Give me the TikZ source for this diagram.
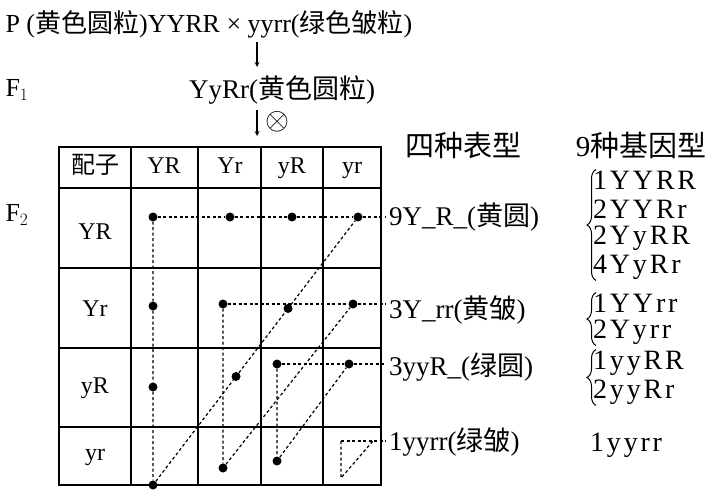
\documentclass[tikz,border=0pt]{standalone}
\usepackage{fontspec}
\setmainfont{Liberation Serif}
\newfontfamily\cjk{Noto Sans CJK SC}
\newfontfamily\gtfont[LetterSpace=10]{Liberation Serif}
\usetikzlibrary{arrows, positioning, decorations.pathreplacing}
\newcommand{\zh}[1]{{\cjk #1}}
\newcommand{\bigf}{\fontsize{26}{30}\selectfont}
\tikzset{
>=stealth, % arrow heads of the two cross arrows
every node/.style={font=\bigf}, % most texts share one size
cell/.style={font=\fontsize{24}{28}\selectfont, text height=16pt, text depth=5pt}, % gametes in the table
dot/.style={circle, fill, inner sep=0pt, minimum size=9pt}, % one seed of F2
guide/.style={line width=1.2pt, dash pattern=on 3pt off 2.5pt}, % joins the seeds of one phenotype
pheno/.style={anchor=west, inner sep=3pt, font=\fontsize{27}{31}\selectfont}, % phenotype ratios on the right
head/.style={font=\fontsize{29}{33}\selectfont}, % column titles
geno/.style={anchor=west, inner sep=1pt, font=\gtfont\fontsize{28}{32}\selectfont}, % genotypes, letter spaced
brace/.style={decorate, decoration={brace, amplitude=9pt}, line width=1pt}, % groups the genotypes
}
\begin{document}
\begin{tikzpicture}[x=1pt, y=-1pt]
\useasboundingbox (0,0) rectangle (712,492);

% parents and F1
\node[anchor=west] (p) at (2,24) {P (\zh{黄色圆粒})YYRR × yyrr(\zh{绿色皱粒})};
\node[anchor=west] (f1) at (2,90) {F$_1$};
\node[anchor=west, inner sep=1pt, font=\fontsize{27}{31}\selectfont] (f1g) at (188,90) {YyRr(\zh{黄色圆粒})};
\node[anchor=west] (f2) at (2,215) {F$_2$};
\node[inner sep=0pt] (self) at (277,122) {\resizebox{24pt}{!}{$\otimes$}};
\coordinate (ar1) at (257,42);
\coordinate (ar2) at (257,67);
\coordinate (ar3) at (257,110);
\coordinate (ar4) at (257,136);
\draw[->, line width=1.2pt] (ar1) -- (ar2);
\draw[->, line width=1.2pt] (ar3) -- (ar4);

% the table
\draw[line width=1.3pt] (131,147) -- (131,485) (198,147) -- (198,485)
    (261,147) -- (261,485) (323,147) -- (323,485)
    (59,268) -- (381,268) (59,348) -- (381,348) (59,427) -- (381,427);
\draw[line width=2.4pt] (59,147) rectangle (381,485) (59,188) -- (381,188);
\node[cell] (h0) at (95,168) {\zh{配子}};
\node[cell] (hYR) at (164,168) {YR};
\node[cell] (hYr) at (230,168) {Yr};
\node[cell] (hyR) at (292,168) {yR};
\node[cell] (hyr) at (352,168) {yr};
\node[cell] (rYR) at (95,234) {YR};
\node[cell] (rYr) at (95,311) {Yr};
\node[cell] (ryR) at (95,388) {yR};
\node[cell] (ryr) at (95,455) {yr};

% seeds
\node[dot] (a1) at (153,217) {};
\node[dot] (a2) at (230,217) {};
\node[dot] (a3) at (292,217) {};
\node[dot] (a4) at (358,217) {};
\node[dot] (b1) at (153,306) {};
\node[dot] (b2) at (223,304) {};
\node[dot] (b3) at (288,308.5) {};
\node[dot] (b4) at (353,304) {};
\node[dot] (c1) at (153,387) {};
\node[dot] (c2) at (236,376.5) {};
\node[dot] (c3) at (277,364) {};
\node[dot] (c4) at (349,364) {};
\node[dot] (d1) at (153,485) {};
\node[dot] (d2) at (223,468) {};
\node[dot] (d3) at (277,461) {};
\coordinate (t1) at (341,441);
\coordinate (t2) at (341,478);
\coordinate (t3) at (373,441);

% phenotypes
\node[pheno] (ph1) at (386,217) {9Y\_R\_(\zh{黄圆})};
\node[pheno] (ph2) at (386,310) {3Y\_rr(\zh{黄皱})};
\node[pheno] (ph3) at (386,367) {3yyR\_(\zh{绿圆})};
\node[pheno] (ph4) at (386,442) {1yyrr(\zh{绿皱})};
\draw[guide] (a1) -- (a2) -- (a3) -- (a4) -- (a4 -| ph1.west);
\draw[guide] (a1) -- (b1) -- (c1) -- (d1) -- (c2) -- (b3) -- (a4);
\draw[guide] (b2) -- (b4) -- (b4 -| ph2.west);
\draw[guide] (b2) -- (d2) -- (b4);
\draw[guide] (c3) -- (c4) -- (c4 -| ph3.west);
\draw[guide] (c3) -- (d3) -- (c4);
\draw[guide] (t1) -- (t1 -| ph4.west);
\draw[guide] (t1) -- (t2) -- (t3);

% genotypes
\node[head] (hp) at (463,145) {\zh{四种表型}};
\node[head] (hg) at (641,145) {9\zh{种基因型}};
\node[geno] (g1) at (592,180) {1YYRR};
\node[geno] (g2) at (592,209) {2YYRr};
\node[geno] (g3) at (592,238) {2YyRR};
\node[geno] (g4) at (592,267) {4YyRr};
\node[geno] (g5) at (592,303) {1YYrr};
\node[geno] (g6) at (592,332) {2Yyrr};
\node[geno] (g7) at (592,363) {1yyRR};
\node[geno] (g8) at (592,392) {2yyRr};
\node[geno] (g9) at (589,445) {1yyrr};
\draw[brace] ([xshift=4pt]g4.south west) -- ([xshift=4pt]g1.north west);
\draw[brace] ([xshift=4pt]g6.south west) -- ([xshift=4pt]g5.north west);
\draw[brace] ([xshift=4pt]g8.south west) -- ([xshift=4pt]g7.north west);
\end{tikzpicture}
\end{document}
